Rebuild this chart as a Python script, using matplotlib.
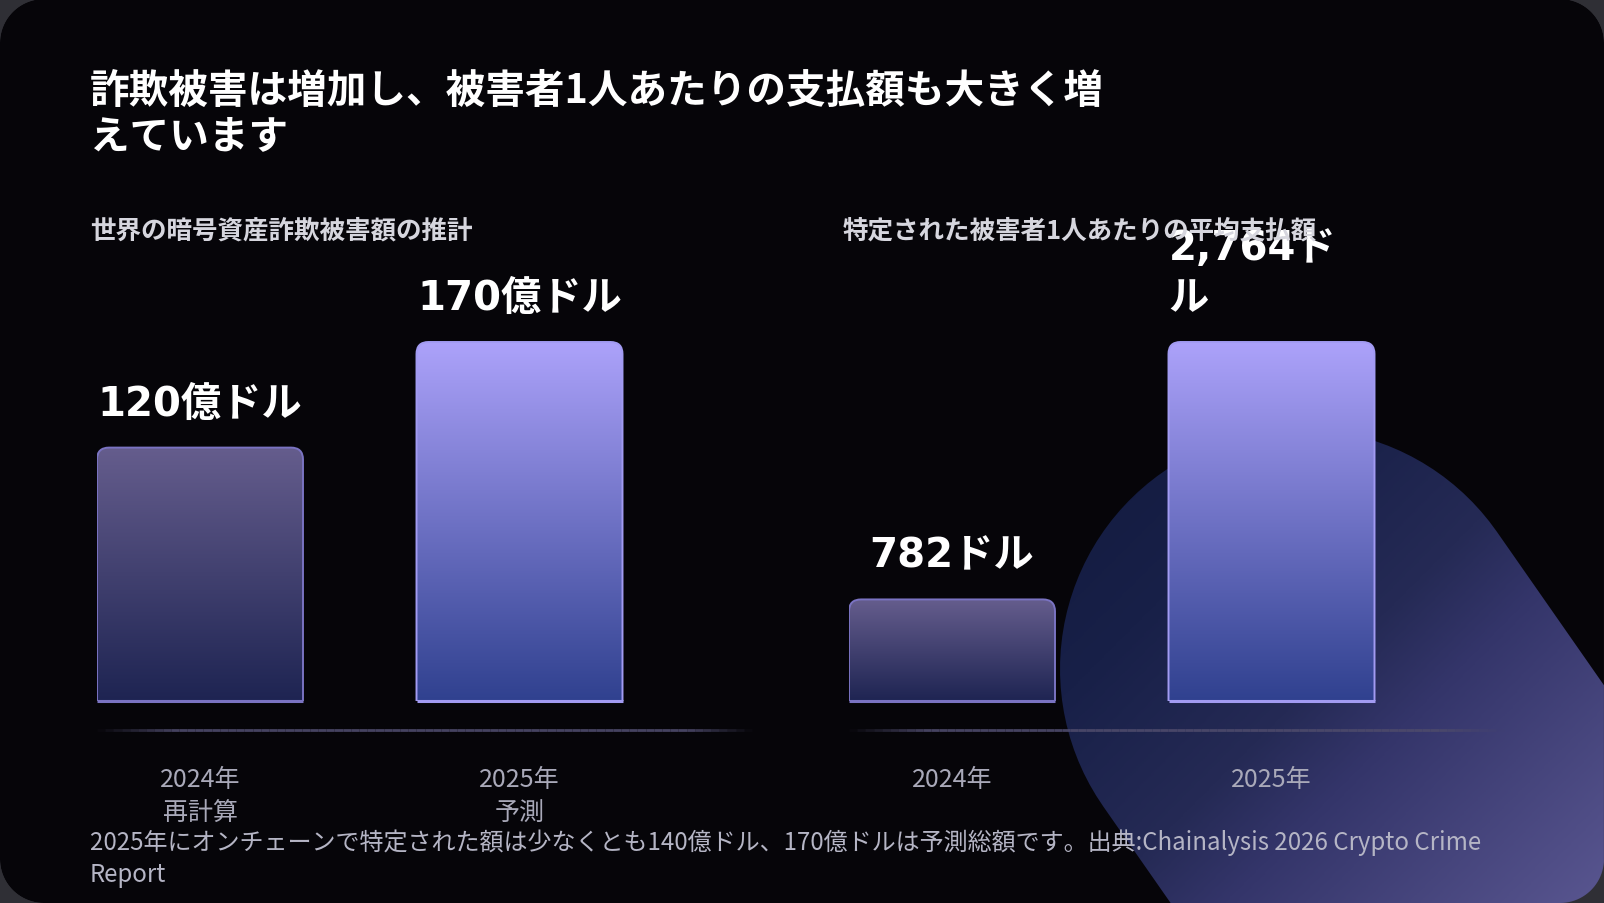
import numpy as np
import matplotlib
matplotlib.use('Agg')
import matplotlib.pyplot as plt
from matplotlib.path import Path
from matplotlib.patches import PathPatch, Polygon
from matplotlib.colors import LinearSegmentedColormap
from matplotlib.collections import LineCollection

plt.rcParams['font.family'] = ['Noto Sans CJK JP', 'DejaVu Sans']

# data
title = '詐欺被害は増加し、被害者1人あたりの支払額も大きく増\nえています'
left_title = '世界の暗号資産詐欺被害額の推計'
right_title = '特定された被害者1人あたりの平均支払額'
left_cats = ['2024年\n再計算', '2025年\n予測']
left_vals = [120, 170]
left_labels = ['120億ドル', '170億ドル']
right_cats = ['2024年', '2025年']
right_vals = [782, 2764]
right_labels = ['782ドル', '2,764ド\nル']
footer = ('2025年にオンチェーンで特定された額は少なくとも140億ドル、170億ドルは予測総額です。'
          '出典:Chainalysis 2026 Crypto Crime\nReport')

W, H, DPI = 1604, 904, 100
BG = '#060509'


def rounded_rect(x0, y0, x1, y1, r, n=24):
    pts = []
    for cx, cy, a0 in [(x1 - r, y1 - r, 0), (x0 + r, y1 - r, 90),
                       (x0 + r, y0 + r, 180), (x1 - r, y0 + r, 270)]:
        a = np.radians(np.linspace(a0, a0 + 90, n))
        pts.append(np.c_[cx + r * np.cos(a), cy + r * np.sin(a)])
    return np.vstack(pts)


def capsule(c, d, length, r, n=60):
    d = np.asarray(d, float) / np.hypot(*d)
    th = np.arctan2(d[1], d[0])
    c = np.asarray(c, float)
    c2 = c + d * length
    a1 = np.linspace(th + np.pi / 2, th + 3 * np.pi / 2, n)
    a2 = np.linspace(th - np.pi / 2, th + np.pi / 2, n)
    p1 = np.c_[c[0] + r * np.cos(a1), c[1] + r * np.sin(a1)]
    p2 = np.c_[c2[0] + r * np.cos(a2), c2[1] + r * np.sin(a2)]
    return np.vstack([p1, p2])


fig = plt.figure(figsize=(W / DPI, H / DPI), dpi=DPI)
fig.patch.set_facecolor('#2f2f35')

# background canvas in pixel units (y down)
bg = fig.add_axes([0, 0, 1, 1])
bg.set_xlim(0, W)
bg.set_ylim(H, 0)
bg.axis('off')
card = rounded_rect(0, 0, W, H, 44)
bg.add_patch(Polygon(card, closed=True, fc=BG, ec='none'))

# decorative blob bottom right
blob_cm = LinearSegmentedColormap.from_list(
    'blob', [(0, '#121a3e'), (0.26, '#182048'), (0.5, '#252a55'),
             (0.63, '#34356a'), (1, '#58558f')])
xx, yy = np.meshgrid(np.linspace(1000, W, 300), np.linspace(380, H, 300))
s = np.clip((xx + yy - 1500) / 1000, 0, 1)
blob_img = bg.imshow(s, extent=(1000, W, H, 380), cmap=blob_cm, vmin=0, vmax=1,
                     aspect='auto', interpolation='bilinear', zorder=1)
blob = Polygon(capsule((1300, 670), (0.6, 0.86), 700, 240), closed=True,
               transform=bg.transData, fc='none', ec='none')
bg.add_patch(blob)
blob_img.set_clip_path(blob)
bg.set_xlim(0, W)
bg.set_ylim(H, 0)

# mask outside the rounded card on top
outer = np.array([[0, 0], [W, 0], [W, H], [0, H], [0, 0]], float)
frame = Path.make_compound_path(Path(outer, closed=True),
                                Path(card[::-1], closed=True))
bg.add_patch(PathPatch(frame, fc='#2f2f35', ec='none', zorder=5))

# title and subtitles
fig.text(90 / W, 1 - 71 / H, title, ha='left', va='top', fontsize=28.5,
         weight='bold', color='white', linespacing=1.14)
fig.text(90 / W, 1 - 231 / H, left_title, ha='left', va='center', fontsize=18.4,
         weight='bold', color='#d6d6de')
fig.text(843 / W, 1 - 231 / H, right_title, ha='left', va='center', fontsize=18.4,
         weight='bold', color='#d6d6de')
fig.text(90 / W, 1 - 829 / H, footer, ha='left', va='top', fontsize=17.3,
         color='#b5b5c5', linespacing=1.33)

c2024 = LinearSegmentedColormap.from_list('c24', ['#1e2452', '#655d8d'])
c2025 = LinearSegmentedColormap.from_list('c25', ['#30418f', '#aca2fa'])
edges = ['#7a73c2', '#a29bf2']
grad = np.linspace(0, 1, 256).reshape(-1, 1)

ax_w, ax_h = 655, 452
bar_h_px = 359
unit_px = 319.5
x_lo = -103 / unit_px
x_hi = x_lo + ax_w / unit_px
bar_w = 206 / unit_px


def draw_panel(left_px, cats, vals, labels):
    ax = fig.add_axes([left_px / W, (H - 702) / H, ax_w / W, ax_h / H])
    ax.set_facecolor('none')
    top = max(vals) * ax_h / bar_h_px
    x = np.arange(len(vals))
    bars = ax.bar(x, vals, width=bar_w, color='none', edgecolor='none')
    rx = 12 / unit_px
    ry = 12 * top / ax_h
    for i, (rect, lab) in enumerate(zip(bars, labels)):
        x0, x1 = rect.get_x(), rect.get_x() + rect.get_width()
        h = rect.get_height()
        verts = [(x0, 0), (x1, 0), (x1, h - ry), (x1, h), (x1 - rx, h),
                 (x0 + rx, h), (x0, h), (x0, h - ry), (x0, 0)]
        codes = [Path.MOVETO, Path.LINETO, Path.LINETO, Path.CURVE3, Path.CURVE3,
                 Path.LINETO, Path.CURVE3, Path.CURVE3, Path.CLOSEPOLY]
        shape = PathPatch(Path(verts, codes), fc='none', ec=edges[i], lw=1.4,
                          zorder=3)
        ax.add_patch(shape)
        img = ax.imshow(grad, extent=(x0, x1, 0, h), origin='lower', aspect='auto',
                        cmap=c2025 if i == 1 else c2024, zorder=2)
        img.set_clip_path(shape)
        ax.plot([x0, x1], [0, 0], color=edges[i], lw=2.2, zorder=4,
                solid_capstyle='butt', clip_on=False)
        cx = rect.get_x() + rect.get_width() / 2
        if '\n' in lab:
            ax.annotate(lab, (x0, h), xytext=(0, 17), textcoords='offset points',
                        ha='left', va='bottom', fontsize=29, weight='bold',
                        color='white', linespacing=1.35,
                        family=['DejaVu Sans', 'Noto Sans CJK JP'])
        else:
            ax.annotate(lab, (cx, h), xytext=(0, 17), textcoords='offset points',
                        ha='center', va='bottom', fontsize=29, weight='bold',
                        color='white', family=['DejaVu Sans', 'Noto Sans CJK JP'])
    ax.set_xlim(x_lo, x_hi)
    ax.set_ylim(0, top)
    ax.set_xticks(x)
    ax.set_xticklabels(cats)
    ax.tick_params(axis='x', length=0, pad=47, labelsize=18, labelcolor='#a9a9b9')
    for t in ax.get_xticklabels():
        t.set_linespacing(1.38)
    ax.set_yticks([])
    for sp in ax.spines.values():
        sp.set_visible(False)

    # faded baseline below the bars
    n = 80
    xs = np.linspace(0, 1, n + 1)
    segs = [[(xs[k], -29 / ax_h), (xs[k + 1], -29 / ax_h)] for k in range(n)]
    mid = (xs[:-1] + xs[1:]) / 2
    alpha = np.clip(np.minimum(mid / 0.12, (1 - mid) / 0.1), 0, 1) * 0.9
    cols = [(0.30, 0.29, 0.42, a) for a in alpha]
    lc = LineCollection(segs, colors=cols, linewidths=2, transform=ax.transAxes,
                        clip_on=False)
    ax.add_collection(lc)
    return ax


draw_panel(97, left_cats, left_vals, left_labels)
draw_panel(849, right_cats, right_vals, right_labels)

fig.savefig('out.png', dpi=DPI, facecolor=fig.get_facecolor())
